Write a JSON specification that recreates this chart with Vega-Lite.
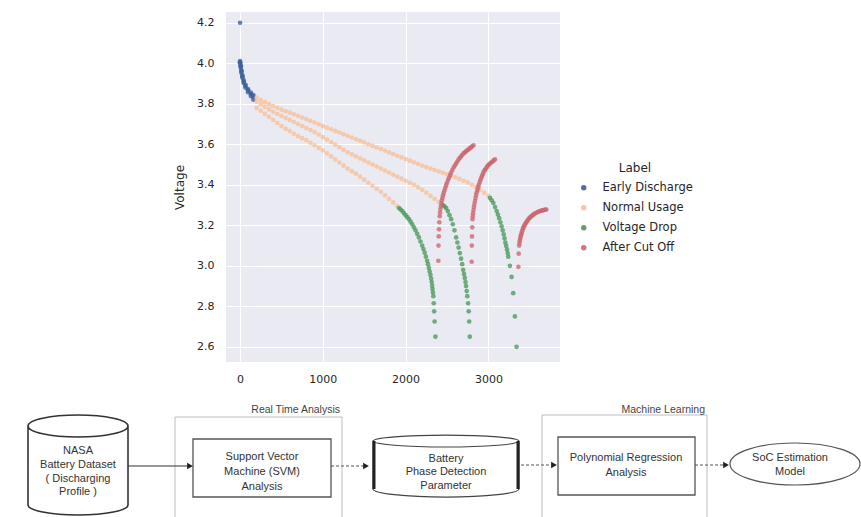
{
  "$schema": "https://vega.github.io/schema/vega-lite/v6.json",
  "background": "white",
  "padding": {"left": 0, "top": 12, "right": 0, "bottom": 0},
  "spacing": 11,
  "config": {
    "view": {"stroke": null},
    "axis": {"labelFont": "DejaVu Sans", "titleFont": "DejaVu Sans"},
    "legend": {"labelFont": "DejaVu Sans", "titleFont": "DejaVu Sans"}
  },
  "vconcat": [
    {
      "hconcat": [
        {
          "width": 226,
          "height": 10,
          "data": {"values": [{"k": 0}]},
          "mark": {"type": "point", "opacity": 0},
          "encoding": {}
        },
        {
          "width": 334,
          "height": 350,
          "view": {"fill": "#eaeaf2", "stroke": null},
          "data": {"values": [
            {"Time":0,"Voltage":4.2,"Label":"Early Discharge"},
            {"Time":0,"Voltage":4.01,"Label":"Early Discharge"},{"Time":8,"Voltage":3.99,"Label":"Early Discharge"},{"Time":16,"Voltage":3.965,"Label":"Early Discharge"},{"Time":28,"Voltage":3.94,"Label":"Early Discharge"},{"Time":44,"Voltage":3.915,"Label":"Early Discharge"},{"Time":65,"Voltage":3.893,"Label":"Early Discharge"},{"Time":96,"Voltage":3.872,"Label":"Early Discharge"},{"Time":130,"Voltage":3.855,"Label":"Early Discharge"},{"Time":160,"Voltage":3.843,"Label":"Early Discharge"},
            {"Time":0,"Voltage":4.005,"Label":"Early Discharge"},{"Time":8,"Voltage":3.985,"Label":"Early Discharge"},{"Time":16,"Voltage":3.96,"Label":"Early Discharge"},{"Time":28,"Voltage":3.935,"Label":"Early Discharge"},{"Time":44,"Voltage":3.91,"Label":"Early Discharge"},{"Time":65,"Voltage":3.888,"Label":"Early Discharge"},{"Time":96,"Voltage":3.866,"Label":"Early Discharge"},{"Time":130,"Voltage":3.848,"Label":"Early Discharge"},{"Time":160,"Voltage":3.834,"Label":"Early Discharge"},
            {"Time":0,"Voltage":4.0,"Label":"Early Discharge"},{"Time":8,"Voltage":3.978,"Label":"Early Discharge"},{"Time":16,"Voltage":3.953,"Label":"Early Discharge"},{"Time":28,"Voltage":3.928,"Label":"Early Discharge"},{"Time":44,"Voltage":3.903,"Label":"Early Discharge"},{"Time":65,"Voltage":3.88,"Label":"Early Discharge"},{"Time":96,"Voltage":3.857,"Label":"Early Discharge"},{"Time":130,"Voltage":3.838,"Label":"Early Discharge"},{"Time":160,"Voltage":3.82,"Label":"Early Discharge"},

            {"Time":200,"Voltage":3.830,"Label":"Normal Usage"},{"Time":250,"Voltage":3.819,"Label":"Normal Usage"},{"Time":300,"Voltage":3.808,"Label":"Normal Usage"},{"Time":350,"Voltage":3.798,"Label":"Normal Usage"},{"Time":400,"Voltage":3.788,"Label":"Normal Usage"},{"Time":450,"Voltage":3.779,"Label":"Normal Usage"},{"Time":500,"Voltage":3.771,"Label":"Normal Usage"},{"Time":550,"Voltage":3.763,"Label":"Normal Usage"},{"Time":600,"Voltage":3.756,"Label":"Normal Usage"},{"Time":650,"Voltage":3.748,"Label":"Normal Usage"},{"Time":700,"Voltage":3.740,"Label":"Normal Usage"},{"Time":750,"Voltage":3.732,"Label":"Normal Usage"},{"Time":800,"Voltage":3.724,"Label":"Normal Usage"},{"Time":850,"Voltage":3.715,"Label":"Normal Usage"},{"Time":900,"Voltage":3.707,"Label":"Normal Usage"},{"Time":950,"Voltage":3.698,"Label":"Normal Usage"},{"Time":1000,"Voltage":3.690,"Label":"Normal Usage"},{"Time":1050,"Voltage":3.682,"Label":"Normal Usage"},{"Time":1100,"Voltage":3.674,"Label":"Normal Usage"},{"Time":1150,"Voltage":3.666,"Label":"Normal Usage"},{"Time":1200,"Voltage":3.658,"Label":"Normal Usage"},{"Time":1250,"Voltage":3.649,"Label":"Normal Usage"},{"Time":1300,"Voltage":3.641,"Label":"Normal Usage"},{"Time":1350,"Voltage":3.633,"Label":"Normal Usage"},{"Time":1400,"Voltage":3.625,"Label":"Normal Usage"},{"Time":1450,"Voltage":3.617,"Label":"Normal Usage"},{"Time":1500,"Voltage":3.609,"Label":"Normal Usage"},{"Time":1550,"Voltage":3.600,"Label":"Normal Usage"},{"Time":1600,"Voltage":3.592,"Label":"Normal Usage"},{"Time":1650,"Voltage":3.584,"Label":"Normal Usage"},{"Time":1700,"Voltage":3.576,"Label":"Normal Usage"},{"Time":1750,"Voltage":3.568,"Label":"Normal Usage"},{"Time":1800,"Voltage":3.560,"Label":"Normal Usage"},{"Time":1850,"Voltage":3.551,"Label":"Normal Usage"},{"Time":1900,"Voltage":3.543,"Label":"Normal Usage"},{"Time":1950,"Voltage":3.535,"Label":"Normal Usage"},{"Time":2000,"Voltage":3.527,"Label":"Normal Usage"},{"Time":2050,"Voltage":3.519,"Label":"Normal Usage"},{"Time":2100,"Voltage":3.511,"Label":"Normal Usage"},{"Time":2150,"Voltage":3.503,"Label":"Normal Usage"},{"Time":2200,"Voltage":3.495,"Label":"Normal Usage"},{"Time":2250,"Voltage":3.487,"Label":"Normal Usage"},{"Time":2300,"Voltage":3.480,"Label":"Normal Usage"},{"Time":2350,"Voltage":3.473,"Label":"Normal Usage"},{"Time":2400,"Voltage":3.466,"Label":"Normal Usage"},{"Time":2450,"Voltage":3.459,"Label":"Normal Usage"},{"Time":2500,"Voltage":3.452,"Label":"Normal Usage"},{"Time":2550,"Voltage":3.445,"Label":"Normal Usage"},{"Time":2600,"Voltage":3.437,"Label":"Normal Usage"},{"Time":2650,"Voltage":3.429,"Label":"Normal Usage"},{"Time":2700,"Voltage":3.420,"Label":"Normal Usage"},{"Time":2750,"Voltage":3.411,"Label":"Normal Usage"},{"Time":2800,"Voltage":3.400,"Label":"Normal Usage"},{"Time":2850,"Voltage":3.388,"Label":"Normal Usage"},{"Time":2900,"Voltage":3.375,"Label":"Normal Usage"},{"Time":2950,"Voltage":3.361,"Label":"Normal Usage"},{"Time":3000,"Voltage":3.345,"Label":"Normal Usage"},

            {"Time":200,"Voltage":3.810,"Label":"Normal Usage"},{"Time":250,"Voltage":3.797,"Label":"Normal Usage"},{"Time":300,"Voltage":3.785,"Label":"Normal Usage"},{"Time":350,"Voltage":3.772,"Label":"Normal Usage"},{"Time":400,"Voltage":3.760,"Label":"Normal Usage"},{"Time":450,"Voltage":3.750,"Label":"Normal Usage"},{"Time":500,"Voltage":3.740,"Label":"Normal Usage"},{"Time":550,"Voltage":3.730,"Label":"Normal Usage"},{"Time":600,"Voltage":3.720,"Label":"Normal Usage"},{"Time":650,"Voltage":3.710,"Label":"Normal Usage"},{"Time":700,"Voltage":3.700,"Label":"Normal Usage"},{"Time":750,"Voltage":3.690,"Label":"Normal Usage"},{"Time":800,"Voltage":3.680,"Label":"Normal Usage"},{"Time":850,"Voltage":3.670,"Label":"Normal Usage"},{"Time":900,"Voltage":3.660,"Label":"Normal Usage"},{"Time":950,"Voltage":3.648,"Label":"Normal Usage"},{"Time":1000,"Voltage":3.635,"Label":"Normal Usage"},{"Time":1050,"Voltage":3.623,"Label":"Normal Usage"},{"Time":1100,"Voltage":3.610,"Label":"Normal Usage"},{"Time":1150,"Voltage":3.598,"Label":"Normal Usage"},{"Time":1200,"Voltage":3.585,"Label":"Normal Usage"},{"Time":1250,"Voltage":3.573,"Label":"Normal Usage"},{"Time":1300,"Voltage":3.560,"Label":"Normal Usage"},{"Time":1350,"Voltage":3.550,"Label":"Normal Usage"},{"Time":1400,"Voltage":3.540,"Label":"Normal Usage"},{"Time":1450,"Voltage":3.530,"Label":"Normal Usage"},{"Time":1500,"Voltage":3.520,"Label":"Normal Usage"},{"Time":1550,"Voltage":3.510,"Label":"Normal Usage"},{"Time":1600,"Voltage":3.500,"Label":"Normal Usage"},{"Time":1650,"Voltage":3.490,"Label":"Normal Usage"},{"Time":1700,"Voltage":3.480,"Label":"Normal Usage"},{"Time":1750,"Voltage":3.470,"Label":"Normal Usage"},{"Time":1800,"Voltage":3.460,"Label":"Normal Usage"},{"Time":1850,"Voltage":3.450,"Label":"Normal Usage"},{"Time":1900,"Voltage":3.440,"Label":"Normal Usage"},{"Time":1950,"Voltage":3.430,"Label":"Normal Usage"},{"Time":2000,"Voltage":3.420,"Label":"Normal Usage"},{"Time":2050,"Voltage":3.410,"Label":"Normal Usage"},{"Time":2100,"Voltage":3.400,"Label":"Normal Usage"},{"Time":2150,"Voltage":3.388,"Label":"Normal Usage"},{"Time":2200,"Voltage":3.375,"Label":"Normal Usage"},{"Time":2250,"Voltage":3.360,"Label":"Normal Usage"},{"Time":2300,"Voltage":3.345,"Label":"Normal Usage"},{"Time":2350,"Voltage":3.330,"Label":"Normal Usage"},{"Time":2400,"Voltage":3.315,"Label":"Normal Usage"},

            {"Time":200,"Voltage":3.780,"Label":"Normal Usage"},{"Time":250,"Voltage":3.765,"Label":"Normal Usage"},{"Time":300,"Voltage":3.750,"Label":"Normal Usage"},{"Time":350,"Voltage":3.735,"Label":"Normal Usage"},{"Time":400,"Voltage":3.720,"Label":"Normal Usage"},{"Time":450,"Voltage":3.705,"Label":"Normal Usage"},{"Time":500,"Voltage":3.690,"Label":"Normal Usage"},{"Time":550,"Voltage":3.677,"Label":"Normal Usage"},{"Time":600,"Voltage":3.665,"Label":"Normal Usage"},{"Time":650,"Voltage":3.652,"Label":"Normal Usage"},{"Time":700,"Voltage":3.640,"Label":"Normal Usage"},{"Time":750,"Voltage":3.630,"Label":"Normal Usage"},{"Time":800,"Voltage":3.620,"Label":"Normal Usage"},{"Time":850,"Voltage":3.607,"Label":"Normal Usage"},{"Time":900,"Voltage":3.595,"Label":"Normal Usage"},{"Time":950,"Voltage":3.582,"Label":"Normal Usage"},{"Time":1000,"Voltage":3.570,"Label":"Normal Usage"},{"Time":1050,"Voltage":3.555,"Label":"Normal Usage"},{"Time":1100,"Voltage":3.540,"Label":"Normal Usage"},{"Time":1150,"Voltage":3.525,"Label":"Normal Usage"},{"Time":1200,"Voltage":3.510,"Label":"Normal Usage"},{"Time":1250,"Voltage":3.495,"Label":"Normal Usage"},{"Time":1300,"Voltage":3.480,"Label":"Normal Usage"},{"Time":1350,"Voltage":3.467,"Label":"Normal Usage"},{"Time":1400,"Voltage":3.455,"Label":"Normal Usage"},{"Time":1450,"Voltage":3.440,"Label":"Normal Usage"},{"Time":1500,"Voltage":3.425,"Label":"Normal Usage"},{"Time":1550,"Voltage":3.410,"Label":"Normal Usage"},{"Time":1600,"Voltage":3.395,"Label":"Normal Usage"},{"Time":1650,"Voltage":3.380,"Label":"Normal Usage"},{"Time":1700,"Voltage":3.365,"Label":"Normal Usage"},{"Time":1750,"Voltage":3.348,"Label":"Normal Usage"},{"Time":1800,"Voltage":3.330,"Label":"Normal Usage"},{"Time":1850,"Voltage":3.313,"Label":"Normal Usage"},{"Time":1900,"Voltage":3.295,"Label":"Normal Usage"},

            {"Time":1920,"Voltage":3.285,"Label":"Voltage Drop"},{"Time":1940,"Voltage":3.278,"Label":"Voltage Drop"},{"Time":1960,"Voltage":3.27,"Label":"Voltage Drop"},{"Time":1980,"Voltage":3.26,"Label":"Voltage Drop"},{"Time":2000,"Voltage":3.25,"Label":"Voltage Drop"},{"Time":2020,"Voltage":3.24,"Label":"Voltage Drop"},{"Time":2040,"Voltage":3.23,"Label":"Voltage Drop"},{"Time":2060,"Voltage":3.218,"Label":"Voltage Drop"},{"Time":2080,"Voltage":3.205,"Label":"Voltage Drop"},{"Time":2100,"Voltage":3.19,"Label":"Voltage Drop"},{"Time":2120,"Voltage":3.175,"Label":"Voltage Drop"},{"Time":2140,"Voltage":3.158,"Label":"Voltage Drop"},{"Time":2160,"Voltage":3.14,"Label":"Voltage Drop"},{"Time":2180,"Voltage":3.12,"Label":"Voltage Drop"},{"Time":2200,"Voltage":3.10,"Label":"Voltage Drop"},{"Time":2215,"Voltage":3.083,"Label":"Voltage Drop"},{"Time":2230,"Voltage":3.065,"Label":"Voltage Drop"},{"Time":2245,"Voltage":3.045,"Label":"Voltage Drop"},{"Time":2260,"Voltage":3.025,"Label":"Voltage Drop"},{"Time":2270,"Voltage":3.008,"Label":"Voltage Drop"},{"Time":2280,"Voltage":2.99,"Label":"Voltage Drop"},{"Time":2290,"Voltage":2.972,"Label":"Voltage Drop"},{"Time":2300,"Voltage":2.955,"Label":"Voltage Drop"},{"Time":2308,"Voltage":2.937,"Label":"Voltage Drop"},{"Time":2315,"Voltage":2.92,"Label":"Voltage Drop"},{"Time":2320,"Voltage":2.902,"Label":"Voltage Drop"},{"Time":2325,"Voltage":2.885,"Label":"Voltage Drop"},{"Time":2330,"Voltage":2.868,"Label":"Voltage Drop"},{"Time":2335,"Voltage":2.85,"Label":"Voltage Drop"},{"Time":2340,"Voltage":2.815,"Label":"Voltage Drop"},{"Time":2345,"Voltage":2.775,"Label":"Voltage Drop"},{"Time":2350,"Voltage":2.725,"Label":"Voltage Drop"},{"Time":2360,"Voltage":2.65,"Label":"Voltage Drop"},

            {"Time":2450,"Voltage":3.30,"Label":"Voltage Drop"},{"Time":2470,"Voltage":3.293,"Label":"Voltage Drop"},{"Time":2490,"Voltage":3.285,"Label":"Voltage Drop"},{"Time":2510,"Voltage":3.27,"Label":"Voltage Drop"},{"Time":2530,"Voltage":3.25,"Label":"Voltage Drop"},{"Time":2550,"Voltage":3.23,"Label":"Voltage Drop"},{"Time":2570,"Voltage":3.205,"Label":"Voltage Drop"},{"Time":2590,"Voltage":3.175,"Label":"Voltage Drop"},{"Time":2610,"Voltage":3.14,"Label":"Voltage Drop"},{"Time":2625,"Voltage":3.115,"Label":"Voltage Drop"},{"Time":2640,"Voltage":3.09,"Label":"Voltage Drop"},{"Time":2655,"Voltage":3.063,"Label":"Voltage Drop"},{"Time":2670,"Voltage":3.035,"Label":"Voltage Drop"},{"Time":2683,"Voltage":3.008,"Label":"Voltage Drop"},{"Time":2695,"Voltage":2.98,"Label":"Voltage Drop"},{"Time":2705,"Voltage":2.96,"Label":"Voltage Drop"},{"Time":2715,"Voltage":2.94,"Label":"Voltage Drop"},{"Time":2723,"Voltage":2.92,"Label":"Voltage Drop"},{"Time":2730,"Voltage":2.90,"Label":"Voltage Drop"},{"Time":2738,"Voltage":2.875,"Label":"Voltage Drop"},{"Time":2745,"Voltage":2.85,"Label":"Voltage Drop"},{"Time":2755,"Voltage":2.815,"Label":"Voltage Drop"},{"Time":2762,"Voltage":2.775,"Label":"Voltage Drop"},{"Time":2768,"Voltage":2.725,"Label":"Voltage Drop"},{"Time":2775,"Voltage":2.65,"Label":"Voltage Drop"},

            {"Time":3020,"Voltage":3.335,"Label":"Voltage Drop"},{"Time":3040,"Voltage":3.323,"Label":"Voltage Drop"},{"Time":3060,"Voltage":3.31,"Label":"Voltage Drop"},{"Time":3080,"Voltage":3.29,"Label":"Voltage Drop"},{"Time":3100,"Voltage":3.27,"Label":"Voltage Drop"},{"Time":3115,"Voltage":3.253,"Label":"Voltage Drop"},{"Time":3130,"Voltage":3.235,"Label":"Voltage Drop"},{"Time":3145,"Voltage":3.215,"Label":"Voltage Drop"},{"Time":3160,"Voltage":3.195,"Label":"Voltage Drop"},{"Time":3173,"Voltage":3.175,"Label":"Voltage Drop"},{"Time":3185,"Voltage":3.155,"Label":"Voltage Drop"},{"Time":3195,"Voltage":3.135,"Label":"Voltage Drop"},{"Time":3205,"Voltage":3.115,"Label":"Voltage Drop"},{"Time":3215,"Voltage":3.098,"Label":"Voltage Drop"},{"Time":3225,"Voltage":3.08,"Label":"Voltage Drop"},{"Time":3233,"Voltage":3.063,"Label":"Voltage Drop"},{"Time":3240,"Voltage":3.045,"Label":"Voltage Drop"},{"Time":3260,"Voltage":3.0,"Label":"Voltage Drop"},{"Time":3280,"Voltage":2.945,"Label":"Voltage Drop"},{"Time":3300,"Voltage":2.865,"Label":"Voltage Drop"},{"Time":3320,"Voltage":2.75,"Label":"Voltage Drop"},{"Time":3340,"Voltage":2.60,"Label":"Voltage Drop"},

            {"Time":2395,"Voltage":3.025,"Label":"After Cut Off"},{"Time":2397,"Voltage":3.10,"Label":"After Cut Off"},{"Time":2400,"Voltage":3.145,"Label":"After Cut Off"},{"Time":2403,"Voltage":3.18,"Label":"After Cut Off"},{"Time":2407,"Voltage":3.215,"Label":"After Cut Off"},{"Time":2412,"Voltage":3.245,"Label":"After Cut Off"},{"Time":2416,"Voltage":3.263,"Label":"After Cut Off"},{"Time":2420,"Voltage":3.28,"Label":"After Cut Off"},{"Time":2426,"Voltage":3.295,"Label":"After Cut Off"},{"Time":2432,"Voltage":3.31,"Label":"After Cut Off"},{"Time":2438,"Voltage":3.323,"Label":"After Cut Off"},{"Time":2445,"Voltage":3.335,"Label":"After Cut Off"},{"Time":2452,"Voltage":3.348,"Label":"After Cut Off"},{"Time":2460,"Voltage":3.36,"Label":"After Cut Off"},{"Time":2470,"Voltage":3.373,"Label":"After Cut Off"},{"Time":2480,"Voltage":3.385,"Label":"After Cut Off"},{"Time":2490,"Voltage":3.398,"Label":"After Cut Off"},{"Time":2500,"Voltage":3.41,"Label":"After Cut Off"},{"Time":2512,"Voltage":3.423,"Label":"After Cut Off"},{"Time":2525,"Voltage":3.435,"Label":"After Cut Off"},{"Time":2538,"Voltage":3.448,"Label":"After Cut Off"},{"Time":2550,"Voltage":3.46,"Label":"After Cut Off"},{"Time":2565,"Voltage":3.473,"Label":"After Cut Off"},{"Time":2580,"Voltage":3.485,"Label":"After Cut Off"},{"Time":2595,"Voltage":3.495,"Label":"After Cut Off"},{"Time":2610,"Voltage":3.505,"Label":"After Cut Off"},{"Time":2625,"Voltage":3.515,"Label":"After Cut Off"},{"Time":2640,"Voltage":3.525,"Label":"After Cut Off"},{"Time":2655,"Voltage":3.533,"Label":"After Cut Off"},{"Time":2670,"Voltage":3.54,"Label":"After Cut Off"},{"Time":2685,"Voltage":3.548,"Label":"After Cut Off"},{"Time":2700,"Voltage":3.555,"Label":"After Cut Off"},{"Time":2715,"Voltage":3.56,"Label":"After Cut Off"},{"Time":2730,"Voltage":3.565,"Label":"After Cut Off"},{"Time":2745,"Voltage":3.57,"Label":"After Cut Off"},{"Time":2760,"Voltage":3.575,"Label":"After Cut Off"},{"Time":2775,"Voltage":3.58,"Label":"After Cut Off"},{"Time":2790,"Voltage":3.585,"Label":"After Cut Off"},{"Time":2805,"Voltage":3.59,"Label":"After Cut Off"},{"Time":2820,"Voltage":3.595,"Label":"After Cut Off"},

            {"Time":2798,"Voltage":3.02,"Label":"After Cut Off"},{"Time":2800,"Voltage":3.10,"Label":"After Cut Off"},{"Time":2802,"Voltage":3.145,"Label":"After Cut Off"},{"Time":2805,"Voltage":3.19,"Label":"After Cut Off"},{"Time":2808,"Voltage":3.23,"Label":"After Cut Off"},{"Time":2811,"Voltage":3.245,"Label":"After Cut Off"},{"Time":2815,"Voltage":3.26,"Label":"After Cut Off"},{"Time":2820,"Voltage":3.275,"Label":"After Cut Off"},{"Time":2825,"Voltage":3.29,"Label":"After Cut Off"},{"Time":2831,"Voltage":3.305,"Label":"After Cut Off"},{"Time":2838,"Voltage":3.32,"Label":"After Cut Off"},{"Time":2845,"Voltage":3.335,"Label":"After Cut Off"},{"Time":2852,"Voltage":3.35,"Label":"After Cut Off"},{"Time":2860,"Voltage":3.363,"Label":"After Cut Off"},{"Time":2868,"Voltage":3.375,"Label":"After Cut Off"},{"Time":2876,"Voltage":3.388,"Label":"After Cut Off"},{"Time":2885,"Voltage":3.40,"Label":"After Cut Off"},{"Time":2895,"Voltage":3.413,"Label":"After Cut Off"},{"Time":2905,"Voltage":3.425,"Label":"After Cut Off"},{"Time":2915,"Voltage":3.435,"Label":"After Cut Off"},{"Time":2925,"Voltage":3.445,"Label":"After Cut Off"},{"Time":2935,"Voltage":3.455,"Label":"After Cut Off"},{"Time":2945,"Voltage":3.465,"Label":"After Cut Off"},{"Time":2957,"Voltage":3.473,"Label":"After Cut Off"},{"Time":2970,"Voltage":3.48,"Label":"After Cut Off"},{"Time":2982,"Voltage":3.488,"Label":"After Cut Off"},{"Time":2995,"Voltage":3.495,"Label":"After Cut Off"},{"Time":3007,"Voltage":3.50,"Label":"After Cut Off"},{"Time":3020,"Voltage":3.505,"Label":"After Cut Off"},{"Time":3035,"Voltage":3.51,"Label":"After Cut Off"},{"Time":3050,"Voltage":3.515,"Label":"After Cut Off"},{"Time":3065,"Voltage":3.52,"Label":"After Cut Off"},{"Time":3080,"Voltage":3.525,"Label":"After Cut Off"},

            {"Time":3362,"Voltage":2.995,"Label":"After Cut Off"},{"Time":3366,"Voltage":3.06,"Label":"After Cut Off"},{"Time":3372,"Voltage":3.10,"Label":"After Cut Off"},{"Time":3376,"Voltage":3.113,"Label":"After Cut Off"},{"Time":3380,"Voltage":3.125,"Label":"After Cut Off"},{"Time":3385,"Voltage":3.135,"Label":"After Cut Off"},{"Time":3390,"Voltage":3.145,"Label":"After Cut Off"},{"Time":3395,"Voltage":3.153,"Label":"After Cut Off"},{"Time":3400,"Voltage":3.16,"Label":"After Cut Off"},{"Time":3407,"Voltage":3.17,"Label":"After Cut Off"},{"Time":3415,"Voltage":3.18,"Label":"After Cut Off"},{"Time":3422,"Voltage":3.188,"Label":"After Cut Off"},{"Time":3430,"Voltage":3.195,"Label":"After Cut Off"},{"Time":3440,"Voltage":3.203,"Label":"After Cut Off"},{"Time":3450,"Voltage":3.21,"Label":"After Cut Off"},{"Time":3460,"Voltage":3.216,"Label":"After Cut Off"},{"Time":3470,"Voltage":3.222,"Label":"After Cut Off"},{"Time":3482,"Voltage":3.229,"Label":"After Cut Off"},{"Time":3495,"Voltage":3.235,"Label":"After Cut Off"},{"Time":3507,"Voltage":3.24,"Label":"After Cut Off"},{"Time":3520,"Voltage":3.245,"Label":"After Cut Off"},{"Time":3535,"Voltage":3.25,"Label":"After Cut Off"},{"Time":3550,"Voltage":3.255,"Label":"After Cut Off"},{"Time":3565,"Voltage":3.259,"Label":"After Cut Off"},{"Time":3580,"Voltage":3.262,"Label":"After Cut Off"},{"Time":3595,"Voltage":3.265,"Label":"After Cut Off"},{"Time":3610,"Voltage":3.268,"Label":"After Cut Off"},{"Time":3625,"Voltage":3.27,"Label":"After Cut Off"},{"Time":3640,"Voltage":3.272,"Label":"After Cut Off"},{"Time":3655,"Voltage":3.274,"Label":"After Cut Off"},{"Time":3670,"Voltage":3.275,"Label":"After Cut Off"},{"Time":3685,"Voltage":3.277,"Label":"After Cut Off"},{"Time":3700,"Voltage":3.278,"Label":"After Cut Off"}
          ]},
          "mark": {"type": "circle", "size": 22, "opacity": 0.78},
          "encoding": {
            "x": {"field": "Time", "type": "quantitative",
              "scale": {"domain": [-170, 3865], "nice": false, "zero": false},
              "axis": {"values": [0, 1000, 2000, 3000], "format": "d", "title": null, "domain": false, "ticks": false, "tickSize": 0,
                "gridColor": "white", "gridWidth": 1, "labelFontSize": 11, "labelColor": "#262626", "labelPadding": 11}},
            "y": {"field": "Voltage", "type": "quantitative",
              "scale": {"domain": [2.525, 4.253], "nice": false, "zero": false},
              "axis": {"values": [2.6, 2.8, 3.0, 3.2, 3.4, 3.6, 3.8, 4.0, 4.2], "format": ".1f", "title": "Voltage",
                "titleFontSize": 12, "titleFontWeight": "normal", "titleColor": "#262626", "titlePadding": 10,
                "domain": false, "ticks": false, "tickSize": 0, "gridColor": "white", "gridWidth": 1,
                "labelFontSize": 11, "labelColor": "#262626", "labelPadding": 12}},
            "color": {"field": "Label", "type": "nominal",
              "scale": {"domain": ["Early Discharge", "Normal Usage", "Voltage Drop", "After Cut Off"],
                        "range": ["#3d5f9e", "#f7bf98", "#4a9a5c", "#cc6670"]},
              "legend": {"title": "Label", "orient": "none", "legendX": 578, "legendY": 151,
                "titleAnchor": "middle", "titleAlign": "center", "titleFontSize": 12, "titleFontWeight": "normal",
                "titleColor": "#262626", "titlePadding": 7, "labelFontSize": 11.5, "labelColor": "#262626",
                "symbolType": "circle", "symbolSize": 30, "symbolOpacity": 0.9, "symbolStrokeWidth": 0,
                "rowPadding": 7, "labelOffset": 13, "padding": 0}}
          }
        }
      ],
      "spacing": 0,
      "bounds": "flush"
    },
    {
      "width": 861,
      "height": 122,
      "layer": [
        {
          "data": {"values": [{"x": 175, "x2": 342, "y": 22, "y2": 130}, {"x": 542, "x2": 707, "y": 20, "y2": 130}]},
          "mark": {"type": "rect", "fillOpacity": 0, "stroke": "#bdbdbd", "strokeWidth": 1},
          "encoding": {
            "x": {"field": "x", "type": "quantitative", "scale": {"domain": [0, 861], "nice": false, "zero": false}, "axis": null},
            "x2": {"field": "x2"},
            "y": {"field": "y", "type": "quantitative", "scale": {"domain": [0, 122], "nice": false, "zero": false, "reverse": true}, "axis": null},
            "y2": {"field": "y2"}
          }
        },
        {
          "data": {"values": [{"x": 193, "x2": 331, "y": 44, "y2": 102}, {"x": 558, "x2": 695, "y": 42, "y2": 100}]},
          "mark": {"type": "rect", "fill": "white", "stroke": "#555555", "strokeWidth": 1.3},
          "encoding": {
            "x": {"field": "x", "type": "quantitative"},
            "x2": {"field": "x2"},
            "y": {"field": "y", "type": "quantitative"},
            "y2": {"field": "y2"}
          }
        },
        {
          "data": {"values": [{"x": 78, "y": 70}]},
          "mark": {"type": "point", "filled": false, "color": "#333333", "strokeWidth": 1.6, "opacity": 1, "size": 10000,
            "shape": "M-1,-0.78 A1,0.22 0 0,1 1,-0.78 L1,0.8 A1,0.2 0 0,1 -1,0.8 Z M-1,-0.78 A1,0.22 0 0,0 1,-0.78"},
          "encoding": {
            "x": {"field": "x", "type": "quantitative"},
            "y": {"field": "y", "type": "quantitative"}
          }
        },
        {
          "data": {"values": [{"x": 446, "y": 71}]},
          "mark": {"type": "point", "filled": false, "color": "#444444", "strokeWidth": 1.2, "opacity": 1, "size": 21316,
            "shape": "M-1,-0.342 A1,0.082 0 0,1 1,-0.342 L1,0.315 A1,0.11 0 0,1 -1,0.315 Z M-1,-0.342 A1,0.082 0 0,0 1,-0.342"},
          "encoding": {
            "x": {"field": "x", "type": "quantitative"},
            "y": {"field": "y", "type": "quantitative"}
          }
        },
        {
          "data": {"values": [{"x": 374, "y": 46, "y2": 94}, {"x": 518, "y": 46, "y2": 94}]},
          "mark": {"type": "rule", "color": "#222222", "strokeWidth": 3},
          "encoding": {
            "x": {"field": "x", "type": "quantitative"},
            "y": {"field": "y", "type": "quantitative"},
            "y2": {"field": "y2"}
          }
        },
        {
          "data": {"values": [{"x": 795, "y": 69}]},
          "mark": {"type": "point", "filled": false, "color": "#555555", "strokeWidth": 1.2, "opacity": 1, "size": 16900,
            "shape": "M-1,0 A1,0.323 0 1,1 1,0 A1,0.323 0 1,1 -1,0 Z"},
          "encoding": {
            "x": {"field": "x", "type": "quantitative"},
            "y": {"field": "y", "type": "quantitative"}
          }
        },
        {
          "data": {"values": [{"x": 128, "x2": 188, "y": 71}]},
          "mark": {"type": "rule", "color": "#333333", "strokeWidth": 1.2},
          "encoding": {
            "x": {"field": "x", "type": "quantitative"},
            "x2": {"field": "x2"},
            "y": {"field": "y", "type": "quantitative"}
          }
        },
        {
          "data": {"values": [{"x": 331, "x2": 364, "y": 71}, {"x": 521, "x2": 552, "y": 70}, {"x": 695, "x2": 724, "y": 70}]},
          "mark": {"type": "rule", "color": "#555555", "strokeWidth": 1.1, "strokeDash": [3, 2]},
          "encoding": {
            "x": {"field": "x", "type": "quantitative"},
            "x2": {"field": "x2"},
            "y": {"field": "y", "type": "quantitative"}
          }
        },
        {
          "data": {"values": [{"x": 190, "y": 71}, {"x": 366, "y": 71}, {"x": 554, "y": 70}, {"x": 726, "y": 70}]},
          "mark": {"type": "point", "shape": "triangle-right", "filled": true, "color": "#222222", "opacity": 1, "size": 45},
          "encoding": {
            "x": {"field": "x", "type": "quantitative"},
            "y": {"field": "y", "type": "quantitative"}
          }
        },
        {
          "data": {"values": [
            {"x": 78, "y": 56, "text": "NASA"},
            {"x": 78, "y": 70, "text": "Battery Dataset"},
            {"x": 78, "y": 84, "text": "( Discharging"},
            {"x": 78, "y": 97, "text": "Profile )"},
            {"x": 262, "y": 62, "text": "Support Vector"},
            {"x": 262, "y": 77, "text": "Machine (SVM)"},
            {"x": 262, "y": 92, "text": "Analysis"},
            {"x": 446, "y": 64, "text": "Battery"},
            {"x": 446, "y": 77, "text": "Phase Detection"},
            {"x": 446, "y": 91, "text": "Parameter"},
            {"x": 626, "y": 63, "text": "Polynomial Regression"},
            {"x": 626, "y": 78, "text": "Analysis"},
            {"x": 790, "y": 63, "text": "SoC Estimation"},
            {"x": 790, "y": 77, "text": "Model"}
          ]},
          "mark": {"type": "text", "font": "Liberation Sans", "fontSize": 11, "color": "#333333", "align": "center", "baseline": "middle"},
          "encoding": {
            "x": {"field": "x", "type": "quantitative"},
            "y": {"field": "y", "type": "quantitative"},
            "text": {"field": "text"}
          }
        },
        {
          "data": {"values": [
            {"x": 340, "y": 15, "text": "Real Time Analysis"},
            {"x": 705, "y": 15, "text": "Machine Learning"}
          ]},
          "mark": {"type": "text", "font": "Liberation Sans", "fontSize": 10.5, "color": "#444444", "align": "right", "baseline": "middle"},
          "encoding": {
            "x": {"field": "x", "type": "quantitative"},
            "y": {"field": "y", "type": "quantitative"},
            "text": {"field": "text"}
          }
        }
      ]
    }
  ]
}
